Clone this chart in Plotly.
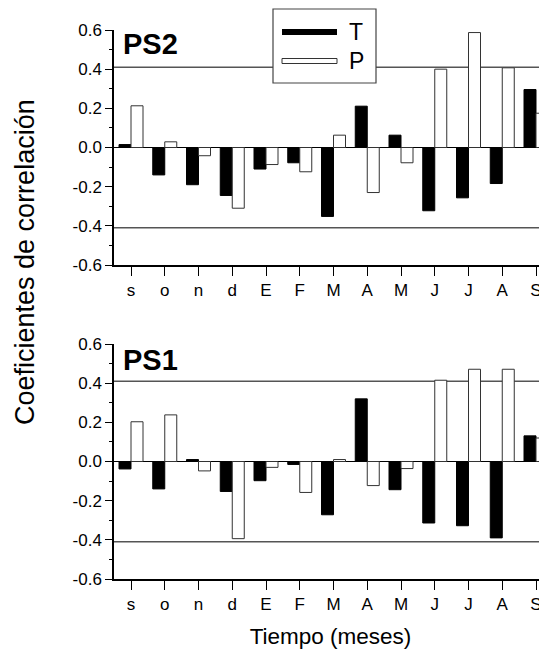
import plotly.graph_objects as go

months = ["s", "o", "n", "d", "E", "F", "M", "A", "M", "J", "J", "A", "S"]
ps2_T = [0.015, -0.14, -0.19, -0.245, -0.11, -0.078, -0.352, 0.211, 0.063, -0.323, -0.257, -0.184, 0.296]
ps2_P = [0.213, 0.029, -0.042, -0.31, -0.087, -0.124, 0.063, -0.23, -0.078, 0.40, 0.587, 0.407, 0.175]
ps1_T = [-0.038, -0.14, 0.01, -0.153, -0.098, -0.015, -0.272, 0.32, -0.144, -0.314, -0.328, -0.39, 0.131]
ps1_P = [0.203, 0.238, -0.048, -0.394, -0.03, -0.158, 0.01, -0.123, -0.036, 0.415, 0.471, 0.471, 0.12]
sig_level = 0.41
ytick_vals = [-0.6, -0.4, -0.2, 0.0, 0.2, 0.4, 0.6]
ytick_text = ["-0.6", "-0.4", "-0.2", "0.0", "0.2", "0.4", "0.6"]

# the page body has an 8px margin, so the figure is sized to end at the window edge
OFF = 8
W, H = 547 - OFF, 657 - OFF
ML, MR, MT, MB = 114 - OFF, 0, 30 - OFF, 78
PW, PH = W - ML - MR, H - MT - MB
FONT = "Liberation Sans, Arial, sans-serif"

def px_x(px):
    # page pixel -> paper fraction
    return (px - 114) / PW

def px_y(py):
    return 1 - (py - 30) / PH

xs = list(range(len(months)))

fig = go.Figure()
panels = [(ps2_T, ps2_P, "x", "y"), (ps1_T, ps1_P, "x2", "y2")]
for i, (tv, pv, xa, ya) in enumerate(panels):
    fig.add_trace(go.Bar(x=xs, y=tv, name="T", xaxis=xa, yaxis=ya,
                         marker=dict(color="black", line=dict(color="black", width=1)),
                         showlegend=False))
    fig.add_trace(go.Bar(x=xs, y=pv, name="P", xaxis=xa, yaxis=ya,
                         marker=dict(color="white", line=dict(color="#333333", width=1)),
                         showlegend=False))

top_dom = [px_y(265), 1.0]
bot_dom = [0.0, px_y(344)]

axis_common_x = dict(range=[-0.504, 12.326], tickvals=xs, ticktext=months,
                     ticks="outside", ticklen=9, tickcolor="black", tickwidth=1,
                     showline=True, linecolor="black", linewidth=1.5,
                     showgrid=False, zeroline=False, automargin=False,
                     ticklabeloverflow="allow",
                     tickfont=dict(family=FONT, size=17, color="black"))
axis_common_y = dict(range=[-0.6, 0.6], tickvals=ytick_vals, ticktext=ytick_text,
                     ticks="outside", ticklen=7, tickcolor="black", tickwidth=1,
                     minor=dict(dtick=0.1, tick0=0, ticks="outside", ticklen=3,
                                tickcolor="black", tickwidth=1),
                     showline=True, linecolor="black", linewidth=1.5,
                     showgrid=False, zeroline=True, zerolinecolor="black", zerolinewidth=1,
                     automargin=False,
                     tickfont=dict(family=FONT, size=17, color="black"))

fig.update_layout(
    width=W, height=H,
    margin=dict(l=ML, r=MR, t=MT, b=MB, autoexpand=False),
    paper_bgcolor="white", plot_bgcolor="white",
    barmode="group", bargap=0.289, bargroupgap=0.0,
    font=dict(family=FONT, color="black"),
    xaxis=dict(domain=[0, 1], anchor="y", **axis_common_x),
    yaxis=dict(domain=top_dom, anchor="x", **axis_common_y),
    xaxis2=dict(domain=[0, 1], anchor="y2",
                title=dict(text="Tiempo (meses)", font=dict(family=FONT, size=22.5, color="black"), standoff=15),
                **axis_common_x),
    yaxis2=dict(domain=bot_dom, anchor="x2", **axis_common_y),
)

shapes = []
for xr, yr in [("x", "y"), ("x2", "y2")]:
    for s in (sig_level, -sig_level):
        shapes.append(dict(type="line", xref=f"{xr} domain", yref=yr, x0=0, x1=1, y0=s, y1=s,
                           line=dict(color="#555555", width=1.5), layer="below"))

# legend box (top panel)
shapes.append(dict(type="rect", xref="paper", yref="paper",
                   x0=px_x(273), x1=px_x(376), y0=px_y(83), y1=px_y(9),
                   fillcolor="white", line=dict(color="#444444", width=1.2), layer="above"))
shapes.append(dict(type="line", xref="paper", yref="paper",
                   x0=px_x(282), x1=px_x(337), y0=px_y(32), y1=px_y(32),
                   line=dict(color="black", width=6), layer="above"))
shapes.append(dict(type="rect", xref="paper", yref="paper",
                   x0=px_x(282), x1=px_x(337), y0=px_y(63.5), y1=px_y(58.5),
                   fillcolor="white", line=dict(color="#333333", width=1), layer="above"))
fig.update_layout(shapes=shapes)

annotations = [
    dict(text="T", x=px_x(347), y=px_y(32), xref="paper", yref="paper", xanchor="left", yanchor="middle",
         showarrow=False, font=dict(family=FONT, size=23, color="black")),
    dict(text="P", x=px_x(347), y=px_y(61), xref="paper", yref="paper", xanchor="left", yanchor="middle",
         showarrow=False, font=dict(family=FONT, size=23, color="black")),
    dict(text="<b>PS2</b>", x=px_x(121), y=px_y(44), xref="paper", yref="paper", xanchor="left", yanchor="middle",
         showarrow=False, font=dict(family=FONT, size=29, color="black")),
    dict(text="<b>PS1</b>", x=px_x(121), y=px_y(360), xref="paper", yref="paper", xanchor="left", yanchor="middle",
         showarrow=False, font=dict(family=FONT, size=29, color="black")),
    dict(text="Coeficientes de correlación", x=0, xshift=25 - 114, y=px_y(262), xref="paper", yref="paper",
         xanchor="center", yanchor="middle", textangle=-90,
         showarrow=False, font=dict(family=FONT, size=27, color="black")),
]
fig.update_layout(annotations=annotations)

fig.write_html("out.html")
